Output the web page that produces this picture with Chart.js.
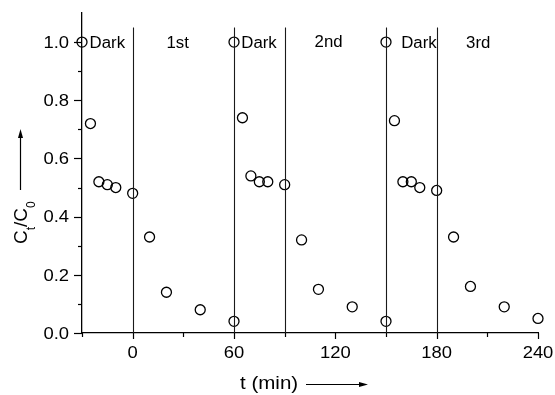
<!DOCTYPE html>
<html>
<head>
<meta charset="utf-8">
<script src="https://cdn.jsdelivr.net/npm/chart.js@4.4.1/dist/chart.umd.min.js"></script>
<style>html,body{margin:0;padding:0;background:#fff;overflow:hidden}</style>
</head>
<body>
<canvas id="c" width="555" height="395"></canvas>
<script>
// ---- data ----
const timeMin = [-30, -25, -20, -15, -10, 0, 10, 20, 40, 60,
                 60, 65, 70, 75, 80, 90, 100, 110, 130, 150,
                 150, 155, 160, 165, 170, 180, 190, 200, 220, 240];
const ratioCtC0 = [1.0, 0.72, 0.52, 0.51, 0.50, 0.48, 0.33, 0.14, 0.08, 0.04,
                   1.0, 0.74, 0.54, 0.52, 0.52, 0.51, 0.32, 0.15, 0.09, 0.04,
                   1.0, 0.73, 0.52, 0.52, 0.50, 0.49, 0.33, 0.16, 0.09, 0.05];
const phaseLineTimes = [0, 60, 90, 150, 180];
const phaseLabels = ['Dark', '1st', 'Dark', '2nd', 'Dark', '3rd'];
const phaseLabelTimes = [-25.5, 20, 64.3, 107.7, 159, 197.4];
const xTickValues = [0, 60, 120, 180, 240];
const xMinorValues = [-30, 30, 90, 150, 210];
const yTickValues = [0, 0.2, 0.4, 0.6, 0.8, 1.0];
const yMinorValues = [0.1, 0.3, 0.5, 0.7, 0.9];

const FONT = '"Liberation Sans", Arial, Helvetica, sans-serif';

function txt(ctx, s, x, y, align, sx) {
  ctx.save();
  ctx.translate(x, y);
  ctx.scale(sx, 1);
  ctx.textAlign = align;
  ctx.textBaseline = 'alphabetic';
  ctx.fillText(s, 0, 0);
  ctx.restore();
}

const decor = {
  id: 'decor',
  afterDatasetsDraw(chart) {
    const {ctx, scales: {x, y}} = chart;
    ctx.save();
    ctx.strokeStyle = '#1a1a1a';
    ctx.lineWidth = 1.1;
    phaseLineTimes.forEach(t => {
      const px = Math.round(x.getPixelForValue(t)) + 0.5;
      ctx.beginPath();
      ctx.moveTo(px, y.getPixelForValue(1.05));
      ctx.lineTo(px, y.getPixelForValue(0));
      ctx.stroke();
    });
    ctx.restore();
  },
  afterDraw(chart) {
    const {ctx, scales: {x, y}} = chart;
    const y0 = y.getPixelForValue(0);
    const xl = x.getPixelForValue(-30);
    ctx.save();
    ctx.strokeStyle = '#000';
    ctx.fillStyle = '#000';
    ctx.lineWidth = 1.2;
    // y ticks
    yTickValues.forEach(v => {
      const py = Math.round(y.getPixelForValue(v)) + 0.5;
      ctx.beginPath(); ctx.moveTo(xl - 8, py); ctx.lineTo(xl, py); ctx.stroke();
    });
    yMinorValues.forEach(v => {
      const py = Math.round(y.getPixelForValue(v)) + 0.5;
      ctx.beginPath(); ctx.moveTo(xl - 4, py); ctx.lineTo(xl, py); ctx.stroke();
    });
    // x ticks
    xTickValues.forEach(v => {
      const px = Math.round(x.getPixelForValue(v)) + 0.5;
      ctx.beginPath(); ctx.moveTo(px, y0); ctx.lineTo(px, y0 + 6); ctx.stroke();
    });
    xMinorValues.forEach(v => {
      const px = Math.round(x.getPixelForValue(v)) + 0.5;
      ctx.beginPath(); ctx.moveTo(px, y0); ctx.lineTo(px, y0 + 4); ctx.stroke();
    });
    // tick labels
    ctx.font = '16px ' + FONT;
    yTickValues.forEach(v => {
      txt(ctx, v.toFixed(1), 69, y.getPixelForValue(v) + 5.7, 'right', 1.15);
    });
    xTickValues.forEach(v => {
      txt(ctx, String(v), x.getPixelForValue(v), 358.3, 'center', 1.15);
    });
    // phase annotations
    ctx.font = '16px ' + FONT;
    phaseLabels.forEach((s, i) => {
      const base = (s === '2nd') ? 46.5 : 48.2;
      txt(ctx, s, x.getPixelForValue(phaseLabelTimes[i]), base, 'left', 1.05);
    });
    // x axis title + arrow
    ctx.font = '19px ' + FONT;
    txt(ctx, 't (min)', 240, 388.5, 'left', 1.08);
    ctx.lineWidth = 1.2;
    ctx.beginPath(); ctx.moveTo(306, 384.5); ctx.lineTo(360, 384.5); ctx.stroke();
    ctx.beginPath(); ctx.moveTo(368, 384.5); ctx.lineTo(359, 382); ctx.lineTo(359, 387); ctx.closePath(); ctx.fill();
    // y axis title (rotated) + arrow
    ctx.save();
    ctx.translate(27, 244);
    ctx.rotate(-Math.PI / 2);
    ctx.textAlign = 'left';
    ctx.textBaseline = 'alphabetic';
    let cx = 0;
    const big = '19px ' + FONT, small = '12px ' + FONT;
    const parts = [['C', big, 0], ['t', small, 8], ['/C', big, 0], ['0', small, 8]];
    parts.forEach(([s, f, dy]) => {
      ctx.font = f;
      ctx.fillText(s, cx, dy);
      cx += ctx.measureText(s).width;
    });
    ctx.restore();
    ctx.beginPath(); ctx.moveTo(20.5, 190); ctx.lineTo(20.5, 137); ctx.stroke();
    ctx.beginPath(); ctx.moveTo(20.5, 129); ctx.lineTo(18, 138); ctx.lineTo(23, 138); ctx.closePath(); ctx.fill();
    ctx.restore();
  }
};

new Chart(document.getElementById('c'), {
  type: 'scatter',
  data: {
    datasets: [{
      data: timeMin.map((t, i) => ({x: t, y: ratioCtC0[i]})),
      clip: false,
      pointRadius: 5,
      pointHoverRadius: 5,
      pointBackgroundColor: 'rgba(255,255,255,0)',
      pointBorderColor: '#000',
      pointBorderWidth: 1.3,
      showLine: false
    }]
  },
  options: {
    responsive: false,
    animation: false,
    devicePixelRatio: 1,
    layout: {padding: {top: 13, right: 17, left: 0, bottom: 0}},
    plugins: {legend: {display: false}, tooltip: {enabled: false}},
    scales: {
      x: {
        type: 'linear', min: -30, max: 240,
        afterFit(s) { s.height = 62; },
        afterBuildTicks(s) { s.ticks = xTickValues.map(v => ({value: v})); },
        ticks: {display: false},
        grid: {display: false},
        border: {display: true, color: '#000', width: 1.3}
      },
      y: {
        type: 'linear', min: 0, max: 1.1,
        afterFit(s) { s.width = 82; },
        afterBuildTicks(s) { s.ticks = yTickValues.map(v => ({value: v})); },
        ticks: {display: false},
        grid: {display: false},
        border: {display: true, color: '#000', width: 1.3}
      }
    }
  },
  plugins: [decor]
});
</script>
</body>
</html>
